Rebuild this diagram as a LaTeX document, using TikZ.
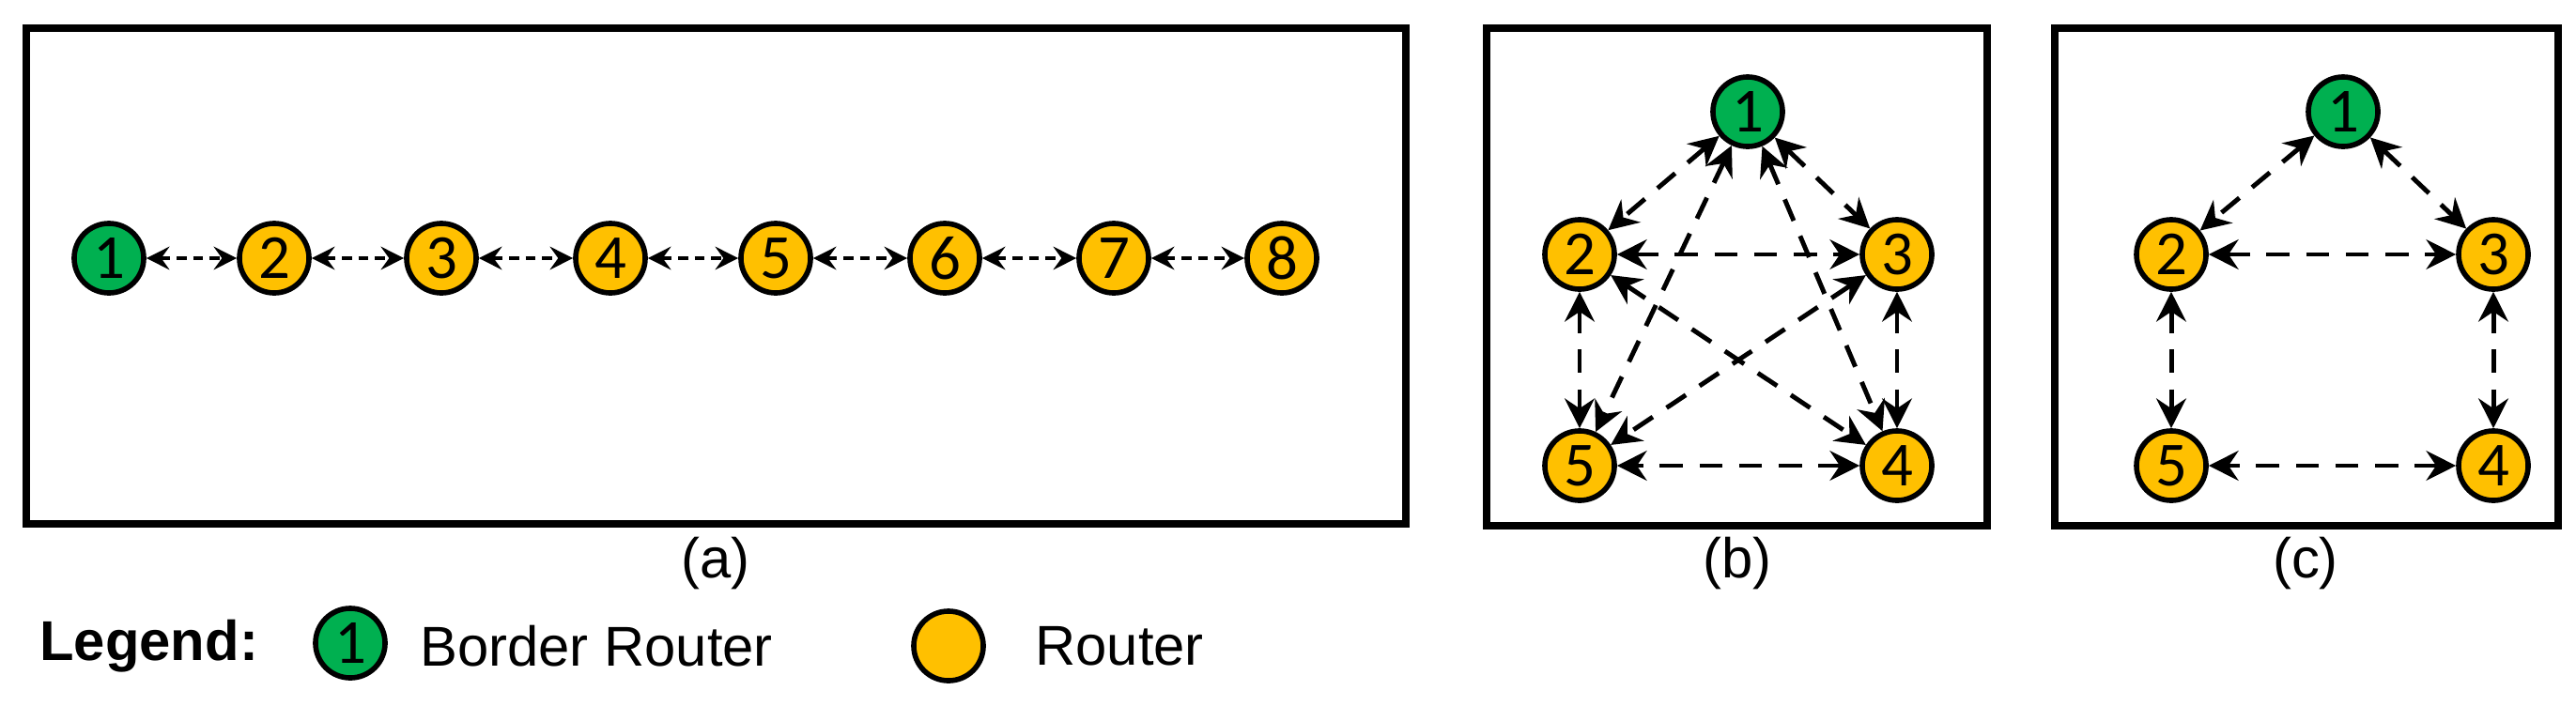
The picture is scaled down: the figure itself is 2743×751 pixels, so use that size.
\documentclass[tikz,border=0pt]{standalone}
\usepackage{fontspec}
\setmainfont{Liberation Sans}
\newfontfamily\carl{Carlito}
\usetikzlibrary{arrows.meta}
\definecolor{brg}{HTML}{00B050}
\definecolor{rty}{HTML}{FFC000}
\begin{document}
\begin{tikzpicture}[x=0.01cm,y=-0.01cm,
  nd/.style={circle,draw=black,line width=1.6pt,minimum size=0.74cm,inner sep=0pt,font=\carl\fontsize{19}{19}\selectfont},
  br/.style={nd,fill=brg},
  rt/.style={nd,fill=rty},
  frame/.style={draw=black,line width=2.2pt},
  la/.style={densely dashed,line width=0.9pt,{Stealth[inset=2.5pt,length=7pt,width=7pt]}-{Stealth[inset=2.5pt,length=7pt,width=7pt]}},
  lb/.style={dash pattern=on 7pt off 5pt,line width=1.4pt,{Stealth[inset=3pt,length=9pt,width=9pt]}-{Stealth[inset=3pt,length=9pt,width=9pt]}},
  lbl/.style={font=\fontsize{17}{17}\selectfont}]
\useasboundingbox (0,0) rectangle (2743,751);
\draw[frame] (28,30) rectangle (1497,558);
\draw[frame] (1583,30) rectangle (2116,560);
\draw[frame] (2188,30) rectangle (2724,560);
% (a)
\node[br] (a1) at (116,275) {1};
\foreach \i/\x in {2/292,3/470,4/650,5/826,6/1006,7/1186,8/1365}{\node[rt] (a\i) at (\x,275) {\i};}
\foreach \i/\j in {1/2,2/3,3/4,4/5,5/6,6/7,7/8}{\draw[la] (a\i) -- (a\j);}
% (b)
\node[br] (b1) at (1861,119) {1};
\node[rt] (b2) at (1682,271) {2};
\node[rt] (b3) at (2020,271) {3};
\node[rt] (b4) at (2020,496) {4};
\node[rt] (b5) at (1682,496) {5};
\foreach \i/\j in {1/2,1/3,1/4,1/5,2/3,2/4,2/5,3/4,3/5,4/5}{\draw[lb] (b\i) -- (b\j);}
% (c)
\node[br] (c1) at (2495,119) {1};
\node[rt] (c2) at (2312,271) {2};
\node[rt] (c3) at (2655,271) {3};
\node[rt] (c4) at (2655,496) {4};
\node[rt] (c5) at (2312,496) {5};
\foreach \i/\j in {1/2,1/3,2/3,2/5,3/4,4/5}{\draw[lb] (c\i) -- (c\j);}
% captions
\node[lbl] (ca) at (762,600) {(a)};
\node[lbl] (cb) at (1850,600) {(b)};
\node[lbl] (cc) at (2455,600) {(c)};
% legend
\node[lbl,font=\bfseries\fontsize{17}{17}\selectfont,anchor=west] (lg) at (30,688) {Legend:};
\node[br] (l1) at (373,685) {1};
\node[lbl,anchor=west] (lt1) at (435,688) {Border Router};
\node[rt] (l2) at (1010,688) {};
\node[lbl,anchor=west] (lt2) at (1090,688) {Router};
\end{tikzpicture}
\end{document}
